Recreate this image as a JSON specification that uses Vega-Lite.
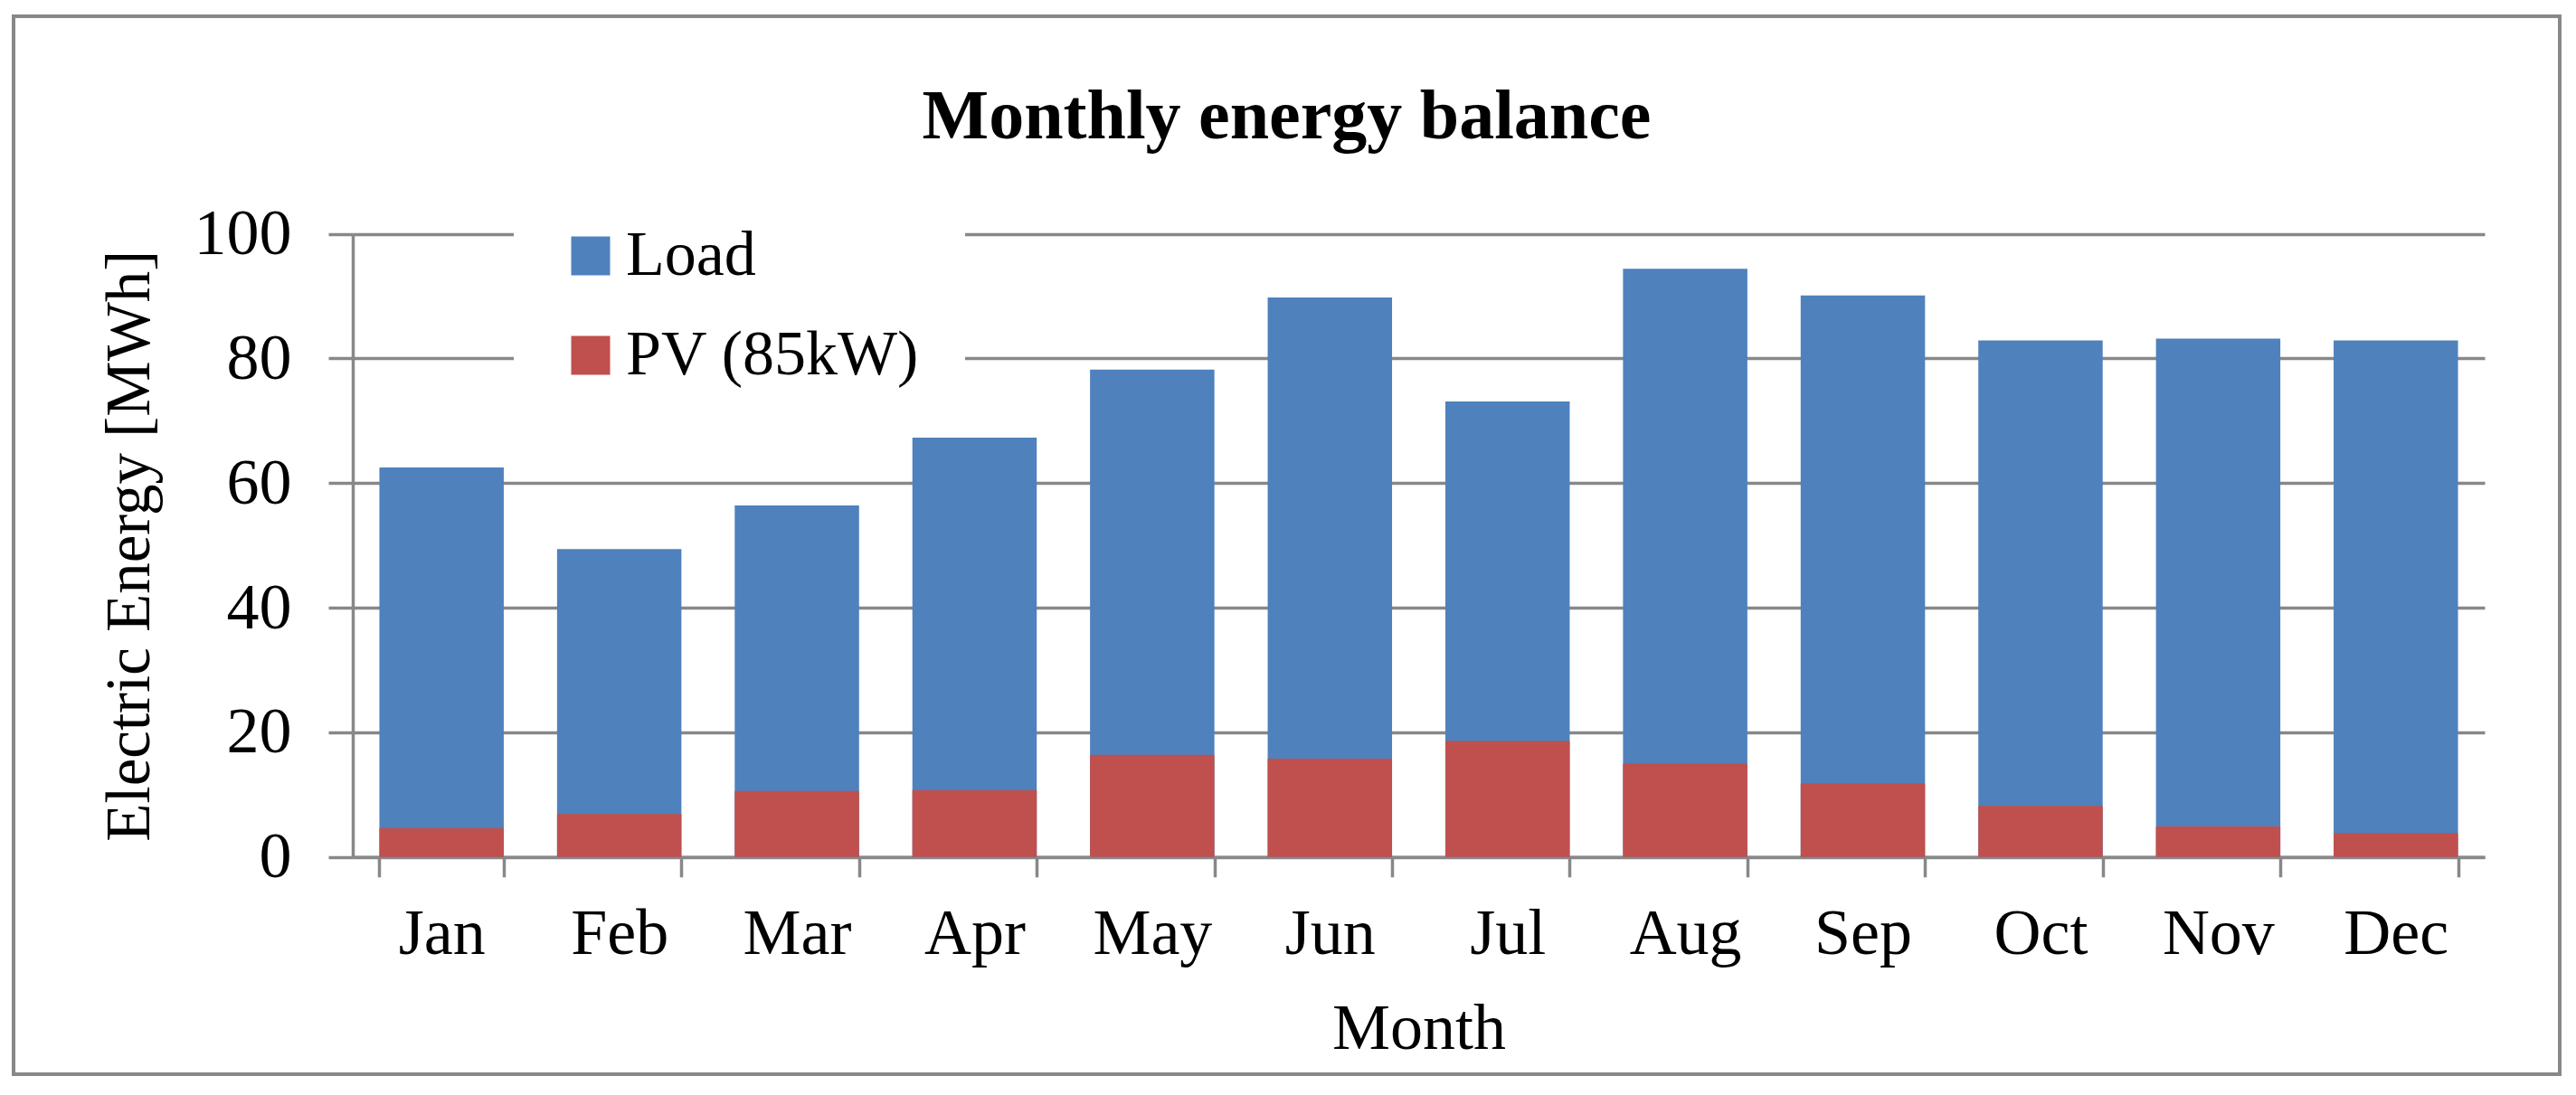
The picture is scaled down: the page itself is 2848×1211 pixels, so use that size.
{
  "$schema": "https://vega.github.io/schema/vega-lite/v6.json",
  "width": 2815,
  "height": 1170,
  "padding": {"left": 15, "top": 18, "right": 10, "bottom": 10},
  "background": "white",
  "title": {
    "text": "Monthly energy balance",
    "font": "Liberation Serif",
    "fontSize": 78,
    "fontWeight": "bold",
    "color": "black",
    "anchor": "middle",
    "frame": "group",
    "baseline": "alphabetic",
    "offset": -213
  },
  "data": {
    "values": [
      {"month": "Jan", "series": "Load", "value": 62.5},
      {"month": "Feb", "series": "Load", "value": 49.4},
      {"month": "Mar", "series": "Load", "value": 56.4},
      {"month": "Apr", "series": "Load", "value": 67.3},
      {"month": "May", "series": "Load", "value": 78.2},
      {"month": "Jun", "series": "Load", "value": 89.8},
      {"month": "Jul", "series": "Load", "value": 73.1},
      {"month": "Aug", "series": "Load", "value": 94.4},
      {"month": "Sep", "series": "Load", "value": 90.1},
      {"month": "Oct", "series": "Load", "value": 82.9},
      {"month": "Nov", "series": "Load", "value": 83.2},
      {"month": "Dec", "series": "Load", "value": 82.9},
      {"month": "Jan", "series": "PV (85kW)", "value": 4.6},
      {"month": "Feb", "series": "PV (85kW)", "value": 6.9},
      {"month": "Mar", "series": "PV (85kW)", "value": 10.6},
      {"month": "Apr", "series": "PV (85kW)", "value": 10.7},
      {"month": "May", "series": "PV (85kW)", "value": 16.4},
      {"month": "Jun", "series": "PV (85kW)", "value": 15.8},
      {"month": "Jul", "series": "PV (85kW)", "value": 18.6},
      {"month": "Aug", "series": "PV (85kW)", "value": 15.0},
      {"month": "Sep", "series": "PV (85kW)", "value": 11.8},
      {"month": "Oct", "series": "PV (85kW)", "value": 8.2},
      {"month": "Nov", "series": "PV (85kW)", "value": 4.9},
      {"month": "Dec", "series": "PV (85kW)", "value": 3.8}
    ]
  },
  "mark": {"type": "bar"},
  "encoding": {
    "x": {
      "field": "month",
      "type": "nominal",
      "sort": ["Jan","Feb","Mar","Apr","May","Jun","Jul","Aug","Sep","Oct","Nov","Dec"],
      "scale": {"range": [375, 2732], "paddingInner": 0.3, "paddingOuter": 0.15},
      "axis": {
        "title": "Month",
        "titleFontSize": 72,
        "titlePadding": 34,
        "labelAngle": 0,
        "labelFontSize": 72,
        "labelPadding": 28,
        "tickSize": 22,
        "tickBand": "extent",
        "offset": -240.2,
        "grid": false
      }
    },
    "y": {
      "field": "value",
      "type": "quantitative",
      "stack": null,
      "scale": {"domain": [0, 100], "range": [929.8, 240.6], "nice": false, "zero": true},
      "axis": {
        "title": "Electric Energy [MWh]",
        "titleFontSize": 69,
        "titlePadding": 36,
        "values": [0, 20, 40, 60, 80, 100],
        "labelFontSize": 72,
        "labelPadding": 41,
        "tickSize": 27,
        "offset": -375,
        "grid": true
      }
    },
    "color": {
      "field": "series",
      "type": "nominal",
      "sort": null,
      "scale": {"domain": ["Load", "PV (85kW)"], "range": ["#4F81BD", "#C0504D"]},
      "legend": {
        "title": null,
        "orient": "none",
        "legendX": 553,
        "legendY": 180,
        "padding": 50,
        "fillColor": "white",
        "symbolType": "square",
        "symbolSize": 1850,
        "symbolStrokeWidth": 0,
        "symbolOpacity": 1,
        "labelFont": "Liberation Serif",
        "labelFontSize": 70,
        "labelColor": "black",
        "labelOffset": 4,
        "labelLimit": 1000,
        "rowPadding": 40
      }
    }
  },
  "config": {
    "view": {"stroke": "#888888", "strokeWidth": 4},
    "axis": {
      "domainColor": "#888888",
      "domainWidth": 3.5,
      "tickColor": "#888888",
      "tickWidth": 3.5,
      "gridColor": "#888888",
      "gridWidth": 3.5,
      "gridOpacity": 1,
      "labelFont": "Liberation Serif",
      "labelColor": "black",
      "titleFont": "Liberation Serif",
      "titleFontWeight": "normal",
      "titleColor": "black"
    }
  }
}
